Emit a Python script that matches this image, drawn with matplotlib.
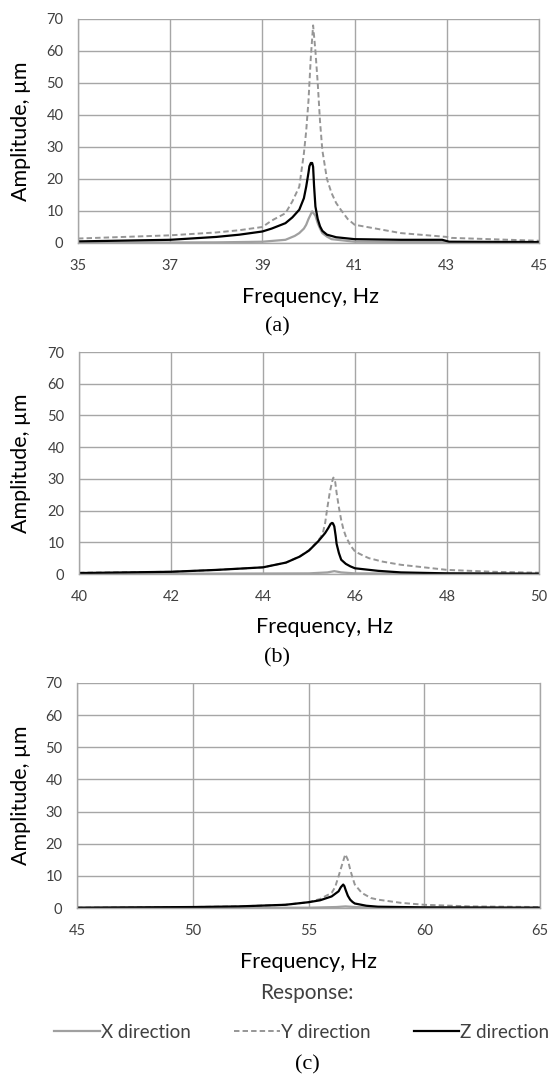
import matplotlib.pyplot as plt

# panel (a): 35-45 Hz
fa_x = [35, 38, 39, 39.5, 39.7, 39.8, 39.9, 39.95, 40.0, 40.08, 40.15, 40.2, 40.25, 40.3, 40.4, 40.5, 41, 45]
amp_a_x = [0.1, 0.2, 0.4, 1.0, 2.2, 3.1, 4.5, 5.7, 7.5, 9.9, 8.5, 6.2, 4.5, 3.1, 2.0, 1.2, 0.4, 0.1]
fa_y = [35, 37, 38, 38.5, 39, 39.2, 39.5, 39.65, 39.8, 39.9, 39.95, 40.0, 40.05, 40.1,
        40.15, 40.2, 40.25, 40.3, 40.4, 40.5, 40.6, 40.7, 40.85, 41, 42, 43, 43.1, 45]
amp_a_y = [1.4, 2.4, 3.3, 4.0, 5.0, 7.0, 9.3, 13, 17.6, 28, 35, 44.6, 58, 68,
           60, 50, 38, 29, 20, 15.6, 12.5, 10.4, 7.5, 5.7, 3.1, 1.9, 1.6, 0.7]
fa_z = [35, 37, 38, 38.5, 39, 39.2, 39.5, 39.65, 39.8, 39.9, 39.95, 40.0, 40.02, 40.05, 40.08,
        40.1, 40.12, 40.15, 40.2, 40.25, 40.3, 40.4, 40.6, 41, 42, 42.9, 43.05, 45]
amp_a_z = [0.5, 1.0, 1.9, 2.6, 3.6, 4.5, 6.2, 8.0, 10.4, 14, 17.6, 22, 24, 25, 25,
           23.8, 18, 11.4, 7.5, 5.2, 3.8, 2.6, 1.8, 1.2, 1.0, 1.0, 0.4, 0.3]

# panel (b): 40-50 Hz
fb_x = [40, 45, 45.4, 45.55, 45.7, 46, 50]
amp_b_x = [0.0, 0.2, 0.5, 0.9, 0.5, 0.2, 0.0]
fb_y = [40, 42, 43, 44, 44.5, 44.8, 45, 45.1, 45.2, 45.25, 45.3, 45.35, 45.4, 45.45, 45.5, 45.53,
        45.57, 45.6, 45.65, 45.7, 45.75, 45.8, 45.9, 46, 46.15, 46.3, 46.6, 47, 48, 49, 50]
amp_b_y = [0.4, 0.7, 1.3, 2.1, 3.6, 5.6, 7.5, 9.0, 10.6, 11.5, 12.9, 16, 21, 25.6, 29, 30.4,
           29, 25.6, 21, 17, 14, 11.9, 9.0, 7.1, 6.0, 5.0, 3.9, 2.9, 1.3, 0.7, 0.4]
fb_z = [40, 42, 43, 44, 44.5, 44.8, 45, 45.2, 45.35, 45.42, 45.47, 45.5, 45.52, 45.55,
        45.58, 45.6, 45.65, 45.7, 45.8, 45.9, 46, 46.5, 47, 48, 50]
amp_b_z = [0.3, 0.7, 1.3, 2.1, 3.6, 5.5, 7.4, 10.3, 12.9, 14.5, 15.8, 16.1, 16, 15,
           12, 9.5, 6.6, 4.5, 3.2, 2.4, 1.8, 1.0, 0.5, 0.2, 0.1]

# panel (c): 45-65 Hz
fc_x = [45, 55, 56.2, 56.6, 57, 58, 65]
amp_c_x = [0.0, 0.1, 0.3, 0.5, 0.3, 0.1, 0.0]
fc_y = [45, 50, 52, 54, 55, 55.5, 56, 56.15, 56.3, 56.45, 56.59, 56.7, 56.8, 56.9, 57,
        57.3, 57.7, 58, 59, 60, 62, 65]
amp_c_y = [0.1, 0.3, 0.5, 1.0, 1.8, 2.8, 4.7, 6.5, 9.9, 13.5, 16.7, 15, 12, 9.5, 7.3,
           4.7, 3.1, 2.6, 1.6, 1.0, 0.5, 0.3]
fc_z = [45, 50, 52, 54, 55, 55.5, 56, 56.3, 56.4, 56.5, 56.55, 56.6, 56.7, 56.8, 56.9, 57,
        57.5, 58, 60, 65]
amp_c_z = [0.1, 0.3, 0.5, 1.0, 1.8, 2.4, 3.6, 5.2, 6.5, 7.3, 6.8, 5.7, 3.8, 2.6, 1.9, 1.4,
           0.7, 0.4, 0.2, 0.1]

panels = [
    (fa_x, amp_a_x, fa_y, amp_a_y, fa_z, amp_a_z, [35, 37, 39, 41, 43, 45]),
    (fb_x, amp_b_x, fb_y, amp_b_y, fb_z, amp_b_z, [40, 42, 44, 46, 48, 50]),
    (fc_x, amp_c_x, fc_y, amp_c_y, fc_z, amp_c_z, [45, 50, 55, 60, 65]),
]
yticks = [0, 10, 20, 30, 40, 50, 60, 70]
labels = ["X direction", "Y direction", "Z direction"]

W, H = 553, 1074
# axes boxes in pixels: left, top, right, bottom
boxes = [(78, 19, 539, 243), (79, 352, 539, 574), (77, 683, 540, 908)]
xlabel_pos = [(311, 297), (324, 627), (308, 962)]
sub_pos = [(277, 327, "(a)"), (277, 658, "(b)"), (307, 1065, "(c)")]

sans = "Lato"
serif = "Liberation Serif"
grid_c = "#a6a6a6"
text_c = "#404040"

fig = plt.figure(figsize=(W / 100, H / 100), dpi=100)

for i, (fx, ax_, fy, ay_, fz, az_, xt) in enumerate(panels):
    l, t, r, b = boxes[i]
    ax = fig.add_axes([l / W, 1 - b / H, (r - l) / W, (b - t) / H])
    hx, = ax.plot(fx, ax_, color="#a0a0a0", lw=1.6)
    hy, = ax.plot(fy, ay_, color="#969696", lw=1.4, ls=(0, (2.8, 1.6)))
    hz, = ax.plot(fz, az_, color="black", lw=1.6)
    ax.set_xlim(xt[0], xt[-1])
    ax.set_ylim(0, 70)
    ax.set_xticks(xt)
    ax.set_yticks(yticks)
    ax.grid(True, color=grid_c, lw=1.0)
    ax.set_axisbelow(True)
    for s in ax.spines.values():
        s.set_color(grid_c)
        s.set_linewidth(1.0)
    ax.spines["top"].set_visible(False)
    ax.tick_params(length=0, labelsize=10.5, labelcolor=text_c, pad=10.5)
    ax.tick_params(axis="x", pad=11.5)
    for lab in ax.get_xticklabels() + ax.get_yticklabels():
        lab.set_fontfamily(sans)
    fig.text(21 / W, 1 - (t + b) / 2 / H, "Amplitude, \u00b5m", rotation=90,
             ha="center", va="center", fontsize=15.5, family=sans, color="black")
    xl, yl = xlabel_pos[i]
    fig.text(xl / W, 1 - yl / H, "Frequency, Hz",
             ha="center", va="center", fontsize=15.5, family=sans, color="black")
    sx, sy, st = sub_pos[i]
    fig.text(sx / W, 1 - sy / H, st, ha="center", va="center",
             fontsize=16, family=serif)

fig.text(307 / W, 1 - 993 / H, "Response:", ha="center", va="center",
         fontsize=15, family=sans, color=text_c)
fig.legend([hx, hy, hz], labels, loc="center left", ncol=3,
           bbox_to_anchor=(54 / W, 1 - 1032 / H), frameon=False, borderpad=0,
           borderaxespad=0, handlelength=2.45, handletextpad=0.05, columnspacing=2.3,
           prop={"family": sans, "size": 13.5}, labelcolor=text_c)

fig.savefig("out.png", dpi=100)
